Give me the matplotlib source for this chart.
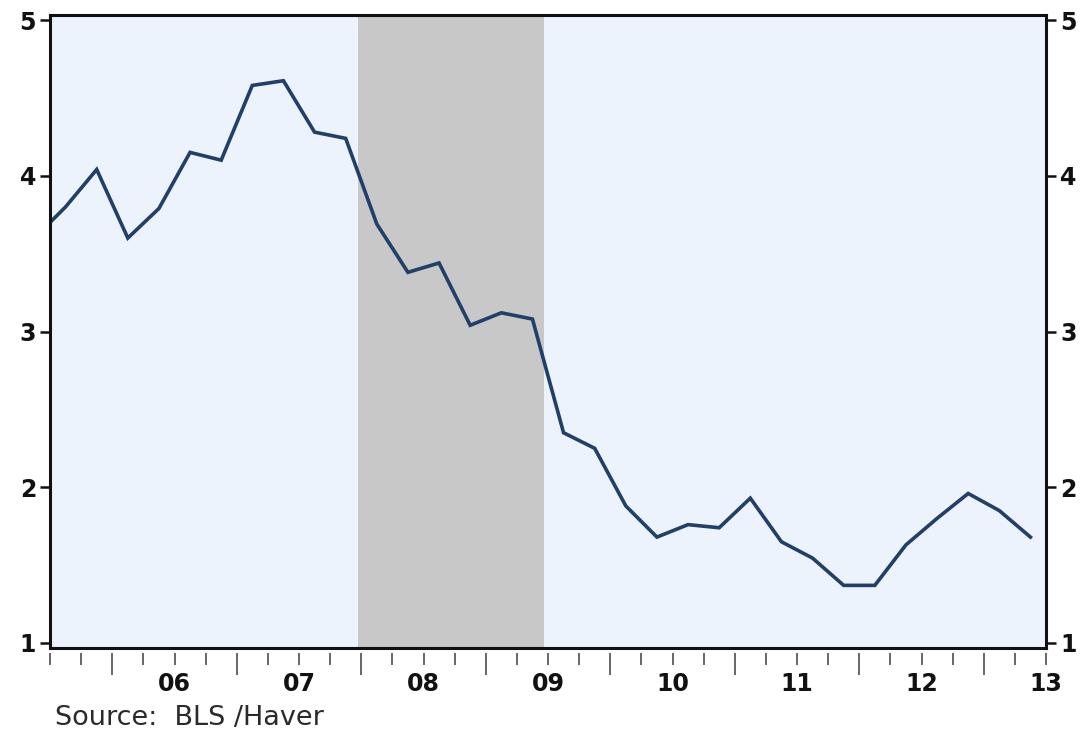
import matplotlib
matplotlib.use("Agg")
import matplotlib.pyplot as plt
import numpy as np

# Quarterly series (mid-quarter dates), percent
quarters = ["2005Q2", "2005Q3", "2005Q4",
            "2006Q1", "2006Q2", "2006Q3", "2006Q4",
            "2007Q1", "2007Q2", "2007Q3", "2007Q4",
            "2008Q1", "2008Q2", "2008Q3", "2008Q4",
            "2009Q1", "2009Q2", "2009Q3", "2009Q4",
            "2010Q1", "2010Q2", "2010Q3", "2010Q4",
            "2011Q1", "2011Q2", "2011Q3", "2011Q4",
            "2012Q1", "2012Q2", "2012Q3", "2012Q4",
            "2013Q1", "2013Q2"]
values = [3.60, 3.80, 4.04,
          3.60, 3.79, 4.15, 4.10,
          4.58, 4.61, 4.28, 4.24,
          3.69, 3.38, 3.44, 3.04,
          3.12, 3.08, 2.35, 2.25,
          1.88, 1.68, 1.76, 1.74,
          1.93, 1.65, 1.545, 1.37,
          1.37, 1.63, 1.80, 1.96,
          1.85, 1.68]

# Recession period (decimal years)
recession = (2007.97, 2009.47)

year_labels = ["06", "07", "08", "09", "10", "11", "12", "13"]
y_ticks = [1, 2, 3, 4, 5]
source_note = "Source:  BLS /Haver"


def quarter_to_year(q):
    year, qn = int(q[:4]), int(q[-1])
    return year + (qn - 1) * 0.25 + 0.125


x = np.array([quarter_to_year(q) for q in quarters])

line_color = "#213f68"
bg_color = "#edf3fc"
shade_color = "#c8c8c8"

plt.rcParams["font.family"] = ["DejaVu Sans"]

fig = plt.figure(figsize=(10.91, 7.31), dpi=100)
ax = fig.add_axes([50 / 1091, (731 - 648) / 731, 996 / 1091, 633 / 731])
ax.set_facecolor(bg_color)

ax.axvspan(recession[0], recession[1], color=shade_color, lw=0, zorder=1)
ax.plot(x, values, color=line_color, lw=2.6, solid_joinstyle="miter", zorder=3)

ax.set_xlim(2005.5, 2013.5)
ax.set_ylim(1 - 20 / 623, 5 + 20 / 623)

for s in ax.spines.values():
    s.set_linewidth(2.2)
    s.set_color("#111111")
    s.set_zorder(5)

# y axis ticks on both sides
ax.set_yticks(y_ticks)
ax.set_yticklabels([str(v) for v in y_ticks])
ax.tick_params(axis="y", which="both", direction="out", length=7, width=1.8,
               labelsize=17, pad=3, left=True, right=True,
               labelleft=True, labelright=True, color="#111111",
               labelcolor="#111111")
for t in ax.yaxis.get_major_ticks():
    t.label1.set_fontweight("bold")
    t.label2.set_fontweight("bold")

# year labels at mid-year, tick marks drawn separately with a gap below the frame
label_pos = [2006.5 + i for i in range(len(year_labels))]
ax.set_xticks(label_pos)
ax.set_xticklabels(year_labels, fontsize=17, fontweight="bold", color="#111111")
ax.tick_params(axis="x", length=0, pad=17)

trans = ax.get_xaxis_transform()
h = 633.0
gap, short_end, long_end = 5 / h, 17 / h, 27 / h
qticks = np.arange(2005.5, 2013.5 + 0.01, 0.25)
for q in qticks:
    is_year = abs(q - round(q)) < 1e-6
    ax.plot([q, q], [-gap, -(long_end if is_year else short_end)],
            transform=trans, color="#666666", lw=1.4, clip_on=False,
            solid_capstyle="butt")

fig.text(55 / 1091, (731 - 725) / 731, source_note, fontsize=19.5,
         color="#2a2a2a", va="baseline", ha="left")

fig.savefig("out.png", dpi=100, facecolor="white")
